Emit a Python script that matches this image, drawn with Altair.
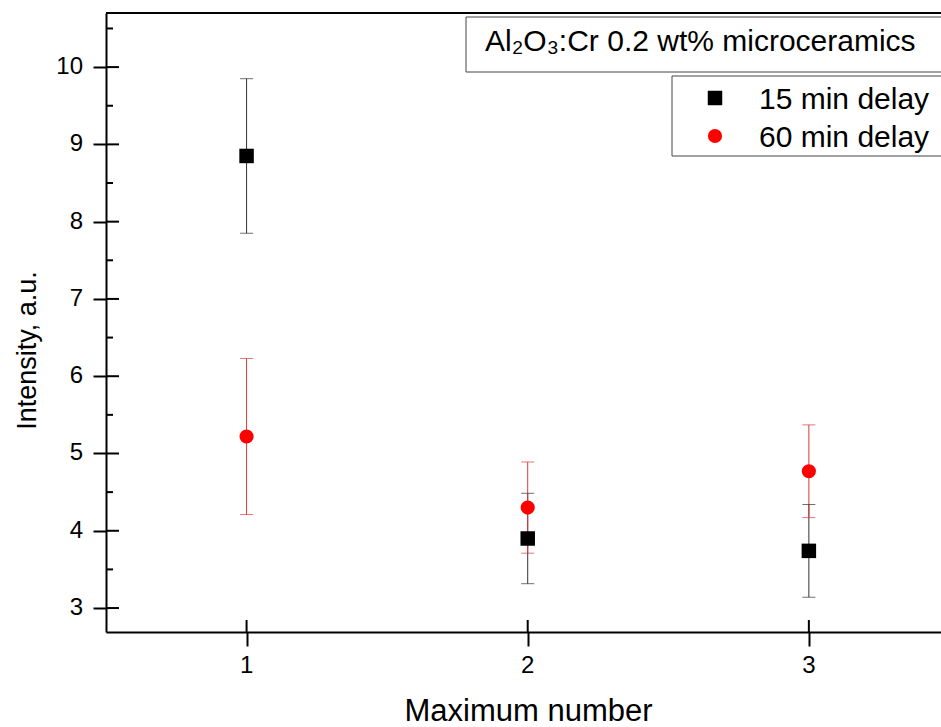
import altair as alt
import pandas as pd

# ---- data ----
max_number = [1, 2, 3]
delay_15_val = [8.85, 3.90, 3.74]
delay_15_err = [1.00, 0.585, 0.60]
delay_60_val = [5.22, 4.30, 4.77]
delay_60_err = [1.01, 0.59, 0.60]
series_names = ["15 min delay", "60 min delay"]

x_ticks = [1, 2, 3]
y_ticks = [3, 4, 5, 6, 7, 8, 9, 10]
y_minor = [3.5, 4.5, 5.5, 6.5, 7.5, 8.5, 9.5, 10.5]
x_domain = [0.5, 3.47]
y_domain = [2.69, 10.70]

box_title = "Al₂O₃:Cr 0.2 wt% microceramics"
x_title = "Maximum number"
y_title = "Intensity, a.u."

FONT = "Liberation Sans"
W, H = 835, 619

rows = []
for name, vals, errs in [(series_names[0], delay_15_val, delay_15_err),
                         (series_names[1], delay_60_val, delay_60_err)]:
    for x, v, e in zip(max_number, vals, errs):
        rows.append({"x": x, "y": v, "lo": v - e, "hi": v + e, "series": name})
df = pd.DataFrame(rows)

xscale = alt.Scale(domain=x_domain, nice=False, zero=False)
yscale = alt.Scale(domain=y_domain, nice=False, zero=False)

xaxis = alt.Axis(values=x_ticks, title=x_title, grid=False, labels=False,
                 tickSize=14, tickWidth=2, tickColor="black",
                 domainWidth=2, domainColor="black",
                 titleFontSize=31, titleFontWeight="normal", titleFont=FONT, titleColor="black",
                 titleX=422, titleY=88, titleBaseline="alphabetic", titleAlign="center")
yaxis = alt.Axis(values=y_ticks, title=y_title, grid=False, labels=False,
                 tickSize=13, tickWidth=2, tickColor="black",
                 domainWidth=2, domainColor="black",
                 titleFontSize=27, titleFontWeight="normal", titleFont=FONT, titleColor="black",
                 titleAngle=270, titleX=-71, titleY=337, titleBaseline="alphabetic",
                 titleAlign="center")


def X(field):
    return alt.X(f"{field}:Q", scale=xscale, axis=xaxis)


def Y(field):
    return alt.Y(f"{field}:Q", scale=yscale, axis=yaxis)


color = alt.Color("series:N", scale=alt.Scale(domain=series_names, range=["#333333", "#d83a3a"]),
                  legend=None)

base = alt.Chart(df)

err_rule = base.mark_rule(strokeWidth=1).encode(x=X("x"), y=Y("lo"), y2="hi", color=color)
cap_lo = base.mark_tick(orient="horizontal", size=13, thickness=1).encode(
    x=X("x"), y=Y("lo"), color=color)
cap_hi = base.mark_tick(orient="horizontal", size=13, thickness=1).encode(
    x=X("x"), y=Y("hi"), color=color)

squares = base.transform_filter(alt.datum.series == series_names[0]).mark_point(
    shape="square", filled=True, size=210, color="black", opacity=1).encode(x=X("x"), y=Y("y"))
circles = base.transform_filter(alt.datum.series == series_names[1]).mark_point(
    shape="circle", filled=True, size=200, color="#ff0000", opacity=1).encode(x=X("x"), y=Y("y"))

# inward parts of the crossing ticks and inner minor ticks
ydf = pd.DataFrame({"v": y_ticks, "t": [str(v) for v in y_ticks]})
xdf = pd.DataFrame({"v": x_ticks, "t": [str(v) for v in x_ticks]})
ymaj = alt.Chart(ydf).mark_rule(strokeWidth=2, color="black").encode(
    y=Y("v"), x=alt.value(0), x2=alt.value(13))
ymin = alt.Chart(pd.DataFrame({"v": y_minor})).mark_rule(strokeWidth=2, color="black").encode(
    y=Y("v"), x=alt.value(0), x2=alt.value(7))
xmaj = alt.Chart(xdf).mark_rule(strokeWidth=2, color="black").encode(
    x=X("v"), y=alt.value(H - 12), y2=alt.value(H))

# tick labels
ylab = alt.Chart(ydf).mark_text(align="right", baseline="middle", fontSize=24, font=FONT,
                                color="black", dx=-23).encode(
    y=Y("v"), x=alt.value(0), text="t:N")
xlab = alt.Chart(xdf).mark_text(align="center", baseline="alphabetic", fontSize=24, font=FONT,
                                color="black").encode(
    x=X("v"), y=alt.value(H + 41), text="t:N")

one = pd.DataFrame({"a": [0]})
top_border = alt.Chart(one).mark_rule(strokeWidth=2, color="black").encode(
    x=alt.value(0), x2=alt.value(W + 20), y=alt.value(0))

title_box = alt.Chart(one).mark_rect(fill="white", stroke="#444444", strokeWidth=1).encode(
    x=alt.value(360), x2=alt.value(W + 40), y=alt.value(4), y2=alt.value(59))
title_text = alt.Chart(pd.DataFrame({"t": [box_title]})).mark_text(
    align="left", baseline="alphabetic", fontSize=30, font=FONT, color="black").encode(
    x=alt.value(379), y=alt.value(38), text="t:N")

legend_box = alt.Chart(one).mark_rect(fill="white", stroke="#444444", strokeWidth=1).encode(
    x=alt.value(566), x2=alt.value(W + 40), y=alt.value(63), y2=alt.value(143))
leg_sq = alt.Chart(one).mark_point(shape="square", filled=True, size=210, color="black",
                                   opacity=1).encode(x=alt.value(609), y=alt.value(85))
leg_ci = alt.Chart(one).mark_point(shape="circle", filled=True, size=200, color="#ff0000",
                                   opacity=1).encode(x=alt.value(609), y=alt.value(123))
leg_t1 = alt.Chart(pd.DataFrame({"t": [series_names[0]]})).mark_text(
    align="left", baseline="alphabetic", fontSize=30, font=FONT, color="black").encode(
    x=alt.value(653), y=alt.value(96), text="t:N")
leg_t2 = alt.Chart(pd.DataFrame({"t": [series_names[1]]})).mark_text(
    align="left", baseline="alphabetic", fontSize=30, font=FONT, color="black").encode(
    x=alt.value(653), y=alt.value(134), text="t:N")

chart = alt.layer(
    err_rule, cap_lo, cap_hi, squares, circles, ymaj, ymin, xmaj, ylab, xlab, top_border,
    title_box, title_text, legend_box, leg_sq, leg_ci, leg_t1, leg_t2
).properties(
    width=W, height=H,
    autosize=alt.AutoSizeParams(type="none"),
    padding={"left": 106, "top": 13, "right": 0, "bottom": 727 - 13 - H},
    background="white",
).configure_view(stroke=None)

chart.save("out.html", embed_options={"renderer": "svg", "actions": False})
